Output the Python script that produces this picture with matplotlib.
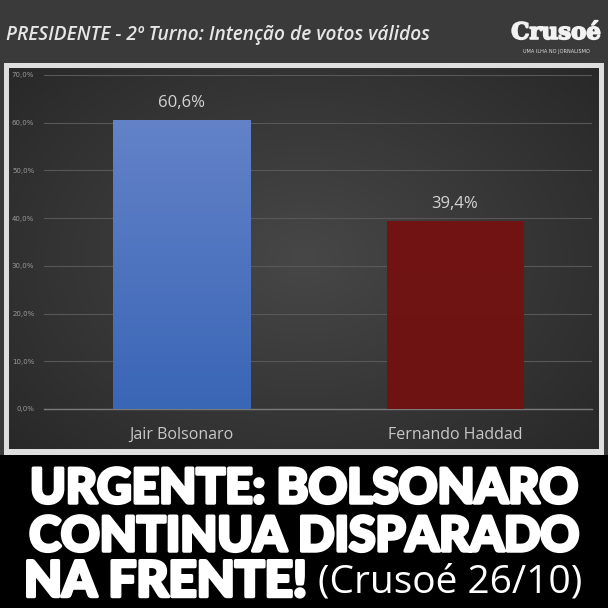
import matplotlib
matplotlib.use("Agg")
import matplotlib.pyplot as plt
import matplotlib.patheffects as pe
import numpy as np
from matplotlib.colors import LinearSegmentedColormap
from matplotlib.patches import Rectangle

# Dados
candidatos = ["Jair Bolsonaro", "Fernando Haddad"]
votos = [60.6, 39.4]
rotulos = ["60,6%", "39,4%"]
ticks_y = [0, 10, 20, 30, 40, 50, 60, 70]
cores_topo = ["#6382c8", "#721414"]
cores_base = ["#3a66b6", "#6e1212"]

W = H = 608


def fx(x):
    return x / W


def fy(y):
    return 1 - y / H


fig = plt.figure(figsize=(6.08, 6.08), dpi=100)
fig.patch.set_facecolor("#3a3a3a")

# Faixa preta inferior
fig.patches.append(Rectangle((0, 0), 1, fy(455), transform=fig.transFigure,
                             facecolor="black", edgecolor="none", zorder=0))

# Moldura clara do grafico
fig.patches.append(Rectangle((fx(4), fy(455)), fx(600), fy(63) - fy(455),
                             transform=fig.transFigure, facecolor="#dedede",
                             edgecolor="none", zorder=0))

# Fundo com gradiente
bg = fig.add_axes([fx(9), fy(449), fx(590), fy(68) - fy(449)])
bg.set_zorder(1)
gx = np.linspace(-1, 1, 300)
gy = np.linspace(-1, 1, 200)
X, Y = np.meshgrid(gx, gy)
grad = 1 - np.clip(np.sqrt((X * 0.9) ** 2 + (Y * 0.8) ** 2), 0, 1.3) / 1.3
cinza = LinearSegmentedColormap.from_list("bg", ["#262626", "#474747"])
bg.imshow(grad, cmap=cinza, vmin=0, vmax=1, aspect="auto", extent=[0, 1, 0, 1])
bg.set_axis_off()

# Eixo do grafico
ax = fig.add_axes([fx(44), fy(409), fx(592) - fx(44), fy(75) - fy(409)])
ax.set_zorder(2)
ax.set_facecolor("none")
x = np.arange(len(candidatos))
bars = ax.bar(x, votos, width=0.5, color=cores_base, zorder=3)
for b, c0, c1, lbl in zip(bars, cores_topo, cores_base, rotulos):
    cmap = LinearSegmentedColormap.from_list("g", [c1, c0])
    x0, w = b.get_x(), b.get_width()
    h = b.get_height()
    img = ax.imshow(np.linspace(0, 1, 100).reshape(-1, 1), cmap=cmap, origin="lower",
                    extent=[x0, x0 + w, 0, h], aspect="auto", zorder=4)
    img.set_clip_path(b)
    ax.text(b.get_x() + w / 2, h + 1.9, lbl, ha="center", va="bottom",
            fontsize=12, color="#d4d4d4", family="Open Sans")

ax.set_xlim(-0.5, 1.5)
ax.set_ylim(0, 70)
ax.set_yticks(ticks_y)
ax.set_yticklabels([f"{t},0%" for t in ticks_y], fontsize=5, color="#9a9a9a")
ax.set_xticks(x)
ax.set_xticklabels(candidatos, fontsize=11.5, color="#c8c8c8", family="Open Sans")
ax.tick_params(axis="both", length=0)
ax.tick_params(axis="y", pad=7)
ax.tick_params(axis="x", pad=13)
ax.grid(axis="y", color="#585858", linewidth=0.8, zorder=0)
for s in ["top", "right", "left"]:
    ax.spines[s].set_visible(False)
ax.spines["bottom"].set_color("#7a7a7a")
ax.spines["bottom"].set_linewidth(1.0)

# Titulo e logo
fig.text(fx(6), fy(35), "PRESIDENTE - 2º Turno: Intenção de votos válidos",
         fontsize=13.8, style="italic", color="#e6e6e6", family="Open Sans",
         va="center", ha="left", fontweight="semibold")
fig.text(fx(556), fy(33), "Crusoé", fontsize=16.5, color="#f2f2f2",
         family="DejaVu Serif", fontweight="bold", ha="center", va="center",
         path_effects=[pe.withStroke(linewidth=1.2, foreground="#f2f2f2")])
fig.text(fx(556), fy(51), "UMA ILHA NO JORNALISMO", fontsize=3.6, color="#dddddd",
         ha="center", va="center")

# Manchete
grosso = [pe.withStroke(linewidth=2.5, foreground="white")]
fig.text(0.5, fy(489), "URGENTE: BOLSONARO", fontsize=34.5, color="white",
         family="Lato", fontweight="black", ha="center", va="center",
         path_effects=grosso)
fig.text(0.5, fy(537), "CONTINUA DISPARADO", fontsize=34.5, color="white",
         family="Lato", fontweight="black", ha="center", va="center",
         path_effects=grosso)
fig.text(fx(24), fy(582), "NA FRENTE!", fontsize=35.5, color="white",
         family="Lato", fontweight="black", ha="left", va="center",
         path_effects=grosso)
fig.text(fx(318), fy(582), "(Crusoé 26/10)", fontsize=28, color="white",
         family="Open Sans", ha="left", va="center")

fig.savefig("out.png", dpi=100, facecolor=fig.get_facecolor())
